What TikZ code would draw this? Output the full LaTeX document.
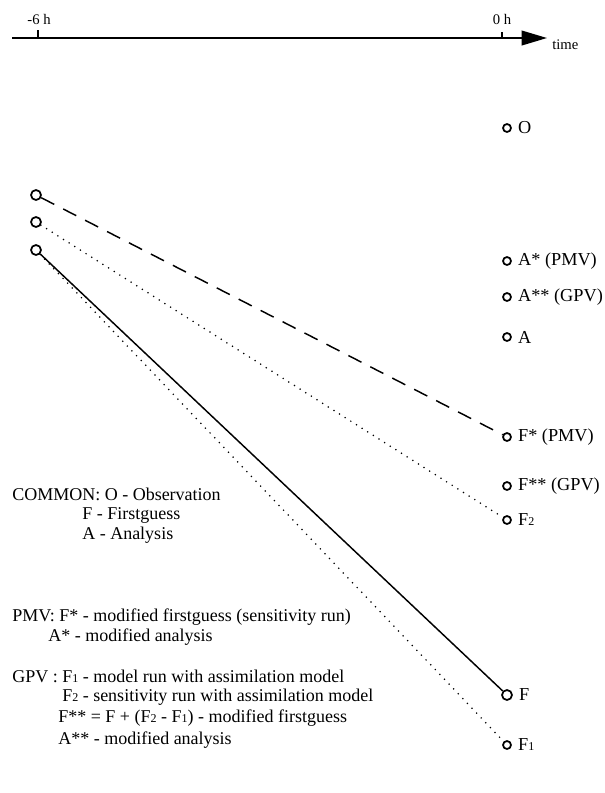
\documentclass[tikz,border=0pt]{standalone}
\usepackage{fontspec}
\setmainfont{Liberation Serif}
\usetikzlibrary{arrows.meta}
\newcommand{\lowsub}[1]{{\fontsize{9pt}{9pt}\selectfont #1}}
\begin{document}
\begin{tikzpicture}[x=0.75pt,y=-0.75pt,
  txt/.style={inner sep=0pt,font=\fontsize{13.5pt}{16pt}\selectfont},
  rtxt/.style={inner sep=0pt,font=\fontsize{13.7pt}{16pt}\selectfont},
  small/.style={inner sep=0pt,font=\fontsize{11pt}{12pt}\selectfont},
  pt/.style={circle,draw,line width=1.3pt,inner sep=0pt,minimum size=6pt},
  ptl/.style={circle,draw,line width=1.3pt,inner sep=0pt,minimum size=7.5pt},
  lab/.style={rtxt,anchor=west,xshift=4.5pt},
  ln/.style={line width=1.1pt},
  dashln/.style={line width=1.1pt,dash pattern=on 11pt off 7.5pt},
  dotln/.style={line width=1.3pt,line cap=round,dash pattern=on 0pt off 5pt}]
\useasboundingbox (0,0) rectangle (605,793);
% time axis
\coordinate (ax0) at (12,38);
\coordinate (ax1) at (547,38);
\draw[line width=1.3pt,-{Triangle[length=19pt,width=11pt]}] (ax0) -- (ax1);
\draw[line width=1.1pt] (38,30) -- (38,38);
\draw[line width=1.1pt] (502,32) -- (502,38);
\node[small] (tm6) at (39,19) {-6 h};
\node[small] (t0) at (502,19) {0 h};
\node[small,anchor=west] (time) at (552,45) {time};
% right points
\node[pt] (O) at (507,128) {};
\node[lab] (Ol) at (O.east) {O};
\node[pt] (As) at (507,261) {};
\node[lab] (Asl) at (As.east) {A* (PMV)};
\node[pt] (Ass) at (507,297) {};
\node[lab] (Assl) at (Ass.east) {A** (GPV)};
\node[pt] (A) at (507,337) {};
\node[lab] (Al) at (A.east) {A};
\node[pt] (Fs) at (507,437) {};
\node[lab] (Fsl) at (Fs.east) {F* (PMV)};
\node[pt] (Fss) at (507,486) {};
\node[lab] (Fssl) at (Fss.east) {F** (GPV)};
\node[pt] (F2) at (507,520) {};
\node[lab] (F2l) at (F2.east) {F\lowsub{2}};
\node[ptl] (F) at (507,695) {};
\node[lab] (Fl) at (F.east) {F};
\node[pt] (F1) at (507,745) {};
\node[lab] (F1l) at (F1.east) {F\lowsub{1}};
% left points
\node[ptl] (L1) at (36,195) {};
\node[ptl] (L2) at (36,222) {};
\node[ptl] (L3) at (36,250) {};
% connectors
\draw[dashln] (L1) -- (Fs);
\draw[dotln] (L2) -- (F2);
\draw[ln] (L3) -- (F);
\draw[dotln] (L3) -- (F1);
% legend
\node[txt,anchor=west] (c1) at (12,494) {COMMON: O - Observation};
\node[txt,anchor=west] (c2) at (82,515) {F - Firstguess};
\node[txt,anchor=west] (c3) at (82,535) {A - Analysis};
\node[txt,anchor=west] (p1) at (12,617) {PMV: F* - modified firstguess (sensitivity run)};
\node[txt,anchor=west] (p2) at (48,637) {A* - modified analysis};
\node[txt,anchor=west] (g1) at (12,676) {GPV : F\lowsub{1} - model run with assimilation model};
\node[txt,anchor=west] (g2) at (62,697) {F\lowsub{2} - sensitivity run with assimilation model};
\node[txt,anchor=west] (g3) at (58,718) {F** = F + (F\lowsub{2} - F\lowsub{1}) - modified firstguess};
\node[txt,anchor=west] (g4) at (58,740) {A** - modified analysis};
\end{tikzpicture}
\end{document}
